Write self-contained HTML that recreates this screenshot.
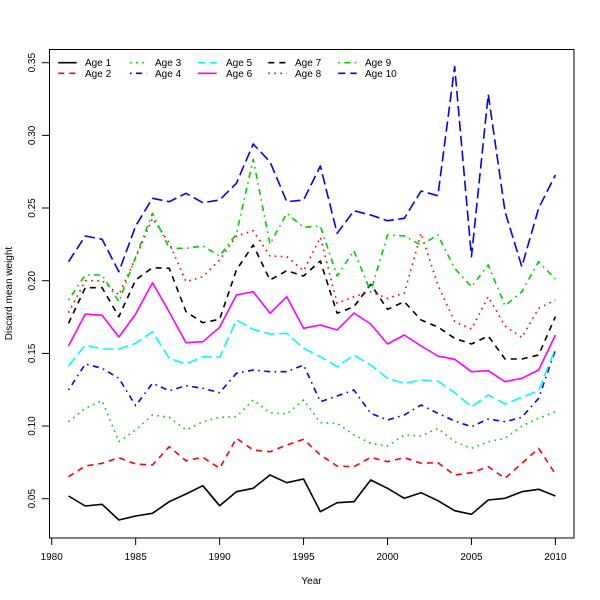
<!DOCTYPE html>
<html><head><meta charset="utf-8"><style>
html,body{margin:0;padding:0;background:#fff;}
svg{display:block;}
text{font-family:"Liberation Sans",Arial,sans-serif;font-size:10px;fill:#000;}
</style></head><body>
<svg width="600" height="600" viewBox="0 0 600 600" xmlns="http://www.w3.org/2000/svg">
<rect width="600" height="600" fill="#fff"/>
<g fill="none" stroke-width="1.6" stroke-linejoin="round">
<polyline stroke="#000" points="68.5,496 85.29,506 102.08,504.3 118.87,520 135.66,516 152.45,513.3 169.24,501.7 186.03,494 202.82,485.7 219.61,505.7 236.4,491.7 253.19,488.3 269.98,475 286.77,482.7 303.56,479 320.35,511.7 337.14,502.7 353.93,501.7 370.72,480 387.51,488.3 404.3,498.3 421.09,492.7 437.88,500.7 454.67,510.7 471.46,514.3 488.25,500 505.04,498.3 521.83,491.7 538.62,489.3 555.41,496"/>
<polyline stroke="#ff0000" stroke-dasharray="6,5" points="68.5,476.7 85.29,466 102.08,463.3 118.87,457.7 135.66,464 152.45,465 169.24,446.7 186.03,460.7 202.82,457.3 219.61,468.3 236.4,438.3 253.19,450 269.98,451.7 286.77,445 303.56,439.3 320.35,455 337.14,466 353.93,466.7 370.72,457.3 387.51,461.7 404.3,457.7 421.09,463.3 437.88,462.7 454.67,475 471.46,472.7 488.25,466.7 505.04,478.3 521.83,463.3 538.62,448.3 555.41,474"/>
<polyline stroke="#00cd00" stroke-dasharray="1.6,4.4" points="68.5,421.7 85.29,408.3 102.08,400.7 118.87,441.7 135.66,430 152.45,415 169.24,417.3 186.03,430 202.82,421.7 219.61,417.3 236.4,416.7 253.19,400 269.98,412.7 286.77,414 303.56,400 320.35,422.7 337.14,423.3 353.93,435 370.72,443.3 387.51,446 404.3,435 421.09,436 437.88,428.3 454.67,441.7 471.46,448.3 488.25,441.7 505.04,438.3 521.83,426 538.62,418.3 555.41,411.7"/>
<polyline stroke="#0000ff" stroke-dasharray="1.6,4.4,6,4.4" points="68.5,390 85.29,364 102.08,368.3 118.87,378.3 135.66,405.7 152.45,383.3 169.24,390.7 186.03,385.7 202.82,388.3 219.61,392.7 236.4,373.3 253.19,370 269.98,371.7 286.77,371.7 303.56,365 320.35,401.7 337.14,396 353.93,390 370.72,413.3 387.51,420 404.3,415 421.09,405 437.88,413.3 454.67,421 471.46,426.7 488.25,419 505.04,421.7 521.83,417.3 538.62,398.3 555.41,350"/>
<polyline stroke="#00ffff" stroke-dasharray="10.5,4.5" points="68.5,366 85.29,345 102.08,349 118.87,349 135.66,343.3 152.45,331.7 169.24,358.3 186.03,364 202.82,356.7 219.61,357.3 236.4,320 253.19,329.3 269.98,334 286.77,333.3 303.56,348.3 320.35,356.7 337.14,366.7 353.93,355 370.72,365 387.51,378.3 404.3,383.3 421.09,380 437.88,381 454.67,392.7 471.46,406.7 488.25,395 505.04,404 521.83,397.3 538.62,390.7 555.41,348.3"/>
<polyline stroke="#ff00ff" points="68.5,346 85.29,314 102.08,315.3 118.87,337 135.66,314 152.45,282.7 169.24,312 186.03,342.7 202.82,341.7 219.61,327.3 236.4,295 253.19,291.7 269.98,313.3 286.77,296.7 303.56,328.3 320.35,325 337.14,330 353.93,313 370.72,324 387.51,344 404.3,335 421.09,346 437.88,356 454.67,359.3 471.46,371.7 488.25,370.7 505.04,381.7 521.83,378.3 538.62,370 555.41,335"/>
<polyline stroke="#000" stroke-dasharray="6,5" points="68.5,323.3 85.29,287.7 102.08,287.7 118.87,316.7 135.66,280 152.45,267.7 169.24,268.3 186.03,311.7 202.82,322.7 219.61,319.3 236.4,270 253.19,245 269.98,280 286.77,270.7 303.56,276 320.35,261 337.14,313.3 353.93,306.7 370.72,284.3 387.51,309.3 404.3,301.7 421.09,320 437.88,327 454.67,338.3 471.46,344 488.25,336 505.04,359 521.83,359 538.62,355 555.41,316.7"/>
<polyline stroke="#ff0000" stroke-dasharray="1.6,4.4" points="68.5,312.7 85.29,280.7 102.08,280.7 118.87,295 135.66,258 152.45,218.3 169.24,243 186.03,281.7 202.82,276.7 219.61,260 236.4,236 253.19,230.7 269.98,256 286.77,256.7 303.56,270.7 320.35,237.3 337.14,303.3 353.93,296.7 370.72,291.7 387.51,298.3 404.3,293.3 421.09,233.3 437.88,285 454.67,321.7 471.46,329 488.25,296.7 505.04,326 521.83,337.5 538.62,308.3 555.41,300"/>
<polyline stroke="#00cd00" stroke-dasharray="1.6,4.4,6,4.4" points="68.5,300 85.29,275 102.08,275 118.87,301.7 135.66,257 152.45,213.3 169.24,248.3 186.03,248.3 202.82,246 219.61,256 236.4,234 253.19,159.3 269.98,244 286.77,213.3 303.56,227.3 320.35,226 337.14,276 353.93,250.7 370.72,291.7 387.51,235 404.3,236 421.09,245 437.88,235 454.67,268.3 471.46,286.7 488.25,265 505.04,305.7 521.83,291.7 538.62,261.7 555.41,279"/>
<polyline stroke="#0000ff" stroke-dasharray="10.5,4.5" points="68.5,261.7 85.29,236 102.08,239.3 118.87,271.7 135.66,226 152.45,198.3 169.24,201.7 186.03,193.3 202.82,202.7 219.61,200 236.4,183.3 253.19,144 269.98,161.7 286.77,201.7 303.56,200 320.35,166 337.14,233.3 353.93,210.7 370.72,215 387.51,220.7 404.3,218.3 421.09,191 437.88,195.7 454.67,66.7 471.46,256.7 488.25,94.3 505.04,211.7 521.83,266.7 538.62,208.3 555.41,175"/>
</g>
<!-- box -->
<rect x="49.5" y="49.5" width="524.5" height="488.5" fill="none" stroke="#000" stroke-width="1"/>
<!-- x ticks -->
<g stroke="#000" stroke-width="1">
<line x1="51.7" y1="538" x2="51.7" y2="545"/>
<line x1="135.66" y1="538" x2="135.66" y2="545"/>
<line x1="219.61" y1="538" x2="219.61" y2="545"/>
<line x1="303.56" y1="538" x2="303.56" y2="545"/>
<line x1="387.51" y1="538" x2="387.51" y2="545"/>
<line x1="471.46" y1="538" x2="471.46" y2="545"/>
<line x1="555.41" y1="538" x2="555.41" y2="545"/>
<line x1="42" y1="498.7" x2="49" y2="498.7"/>
<line x1="42" y1="426.0" x2="49" y2="426.0"/>
<line x1="42" y1="353.4" x2="49" y2="353.4"/>
<line x1="42" y1="280.7" x2="49" y2="280.7"/>
<line x1="42" y1="208.0" x2="49" y2="208.0"/>
<line x1="42" y1="135.4" x2="49" y2="135.4"/>
<line x1="42" y1="62.7" x2="49" y2="62.7"/>
</g>
<g text-anchor="middle">
<text x="51.7" y="560">1980</text>
<text x="135.66" y="560">1985</text>
<text x="219.61" y="560">1990</text>
<text x="303.56" y="560">1995</text>
<text x="387.51" y="560">2000</text>
<text x="471.46" y="560">2005</text>
<text x="555.41" y="560">2010</text>
<text transform="translate(35,498.7) rotate(-90)">0.05</text>
<text transform="translate(35,426.0) rotate(-90)">0.10</text>
<text transform="translate(35,353.4) rotate(-90)">0.15</text>
<text transform="translate(35,280.7) rotate(-90)">0.20</text>
<text transform="translate(35,208.0) rotate(-90)">0.25</text>
<text transform="translate(35,135.4) rotate(-90)">0.30</text>
<text transform="translate(35,62.7) rotate(-90)">0.35</text>
<text x="311.5" y="584">Year</text>
<text transform="translate(12,293.5) rotate(-90)">Discard mean weight</text>
</g>
<!-- legend -->
<g fill="none" stroke-width="1.6">
<line x1="58.3" y1="62.7" x2="76.7" y2="62.7" stroke="#000"/>
<line x1="58.3" y1="73.3" x2="76.7" y2="73.3" stroke="#ff0000" stroke-dasharray="6,5"/>
<line x1="130" y1="62.7" x2="146.7" y2="62.7" stroke="#00cd00" stroke-dasharray="1.6,4.4"/>
<line x1="130" y1="73.3" x2="146.7" y2="73.3" stroke="#0000ff" stroke-dasharray="1.6,4.4,6,4.4"/>
<line x1="198" y1="62.7" x2="216.7" y2="62.7" stroke="#00ffff" stroke-dasharray="7,5"/>
<line x1="198" y1="73.3" x2="216.7" y2="73.3" stroke="#ff00ff"/>
<line x1="268.3" y1="62.7" x2="286.7" y2="62.7" stroke="#000" stroke-dasharray="6,5"/>
<line x1="268.3" y1="73.3" x2="286.7" y2="73.3" stroke="#ff0000" stroke-dasharray="1.6,4.4"/>
<line x1="338.3" y1="62.7" x2="356.7" y2="62.7" stroke="#00cd00" stroke-dasharray="1.6,4.4,6,4.4"/>
<line x1="338.3" y1="73.3" x2="356.7" y2="73.3" stroke="#0000ff" stroke-dasharray="7,5"/>
</g>
<g>
<text x="85" y="66.2">Age 1</text>
<text x="85" y="76.8">Age 2</text>
<text x="155" y="66.2">Age 3</text>
<text x="155" y="76.8">Age 4</text>
<text x="226" y="66.2">Age 5</text>
<text x="226" y="76.8">Age 6</text>
<text x="295" y="66.2">Age 7</text>
<text x="295" y="76.8">Age 8</text>
<text x="365" y="66.2">Age 9</text>
<text x="365" y="76.8">Age 10</text>
</g>
</svg>
</body></html>
